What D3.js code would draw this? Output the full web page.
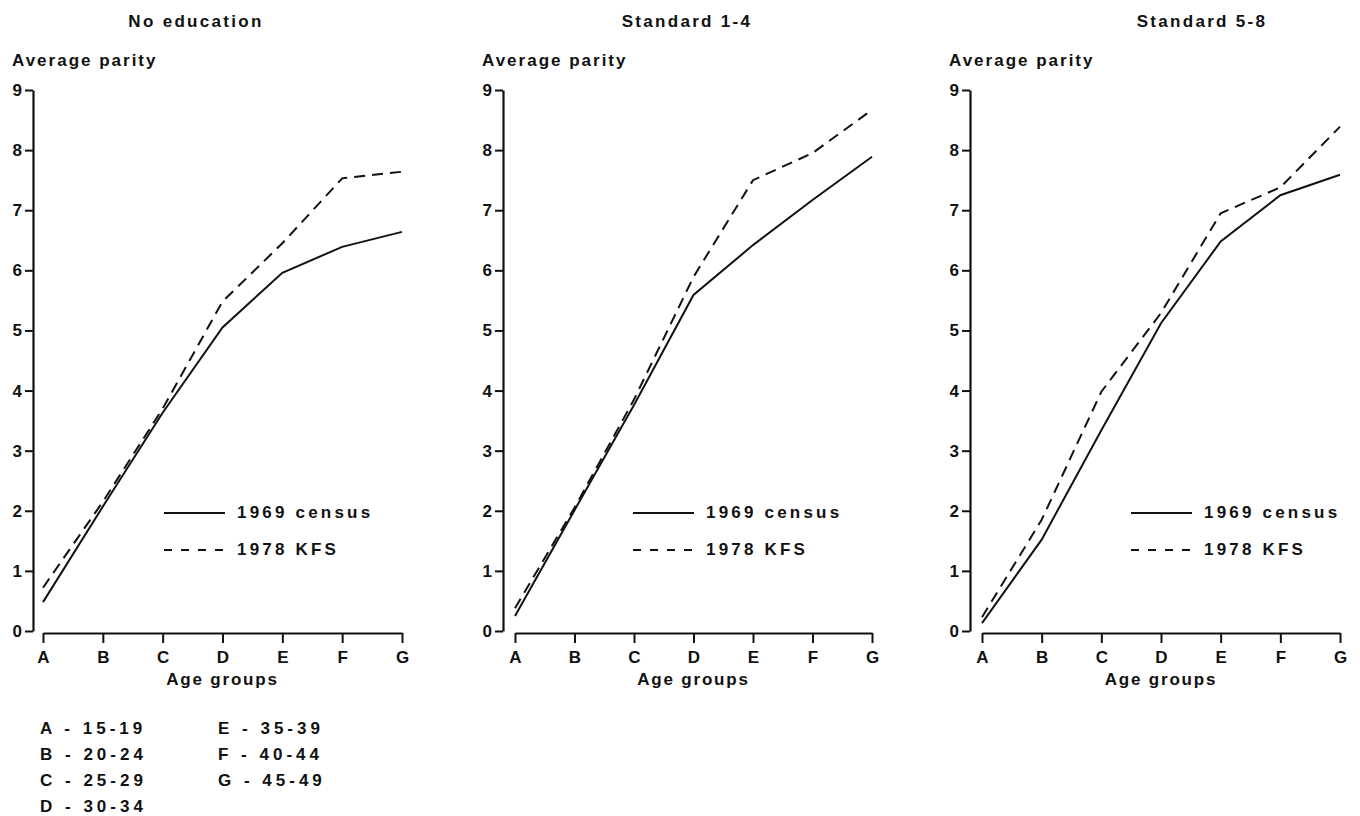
<!DOCTYPE html>
<html>
<head>
<meta charset="utf-8">
<script src="https://cdn.jsdelivr.net/npm/d3@7"></script>
<style>
  html, body { margin: 0; padding: 0; background: #fff; }
  svg { display: block; }
  text { font-family: "Liberation Sans", Arial, sans-serif; font-weight: bold; fill: #111; }
</style>
</head>
<body>
<div id="chart"></div>
<script>
// Age group codes along the x axis
const ageCodes = ['A', 'B', 'C', 'D', 'E', 'F', 'G'];
const ageRanges = ['15-19', '20-24', '25-29', '30-34', '35-39', '40-44', '45-49'];
const yTicks = [0, 1, 2, 3, 4, 5, 6, 7, 8, 9];

const panelTitles = ['No education', 'Standard 1-4', 'Standard 5-8'];
const seriesNames = ['1969 census', '1978 KFS'];

// Average parity
const census1969 = [
  [0.48, 2.07, 3.63, 5.05, 5.96, 6.39, 6.64],
  [0.25, 2.01, 3.76, 5.59, 6.42, 7.17, 7.89],
  [0.13, 1.52, 3.34, 5.12, 6.48, 7.25, 7.59]
];
const kfs1978 = [
  [0.72, 2.15, 3.70, 5.48, 6.45, 7.53, 7.64],
  [0.38, 2.05, 3.85, 5.89, 7.50, 7.95, 8.67],
  [0.23, 1.85, 3.98, 5.29, 6.95, 7.38, 8.39]
];

const width = 1360, height = 816;

// layout for each panel: y-axis position, first / last x tick, title centre, legend start
const panels = [
  { axisX: 33,  x0: 43,  x1: 402,  titleX: 196,  legendX: 164 },
  { axisX: 503, x0: 515, x1: 872,  titleX: 687,  legendX: 633 },
  { axisX: 970, x0: 982, x1: 1340, titleX: 1202, legendX: 1131 }
];

const yTop = 90, yBottom = 631;
const fontSize = 17;

const svg = d3.select('#chart')
  .append('svg')
  .attr('width', width)
  .attr('height', height)
  .attr('viewBox', [0, 0, width, height]);

const y = d3.scaleLinear().domain([0, 9]).range([yBottom, yTop]);

panels.forEach((p, i) => {
  const g = svg.append('g');

  const x = d3.scalePoint().domain(ageCodes).range([p.x0, p.x1]);

  // title
  g.append('text')
    .attr('x', p.titleX)
    .attr('y', 27)
    .attr('text-anchor', 'middle')
    .style('font-size', fontSize + 'px')
    .style('letter-spacing', '2.3px')
    .text(panelTitles[i]);

  // y axis label
  g.append('text')
    .attr('x', p.axisX - 21)
    .attr('y', 66)
    .style('font-size', fontSize + 'px')
    .style('letter-spacing', '2px')
    .text('Average parity');

  // y axis
  const yAxis = g.append('g')
    .attr('transform', `translate(${p.axisX},0)`)
    .call(d3.axisLeft(y).tickValues(yTicks).tickSize(8).tickSizeOuter(0).tickPadding(3).tickFormat(d3.format('d')));

  // x axis
  const xAxis = g.append('g')
    .attr('transform', `translate(0,${yBottom + 2})`)
    .call(d3.axisBottom(x).tickSize(10).tickSizeOuter(0).tickPadding(8));

  [yAxis, xAxis].forEach(ax => {
    ax.select('.domain').attr('stroke', '#111').attr('stroke-width', 2.2);
    ax.selectAll('.tick line').attr('stroke', '#111').attr('stroke-width', 2);
    ax.selectAll('.tick text')
      .style('font-size', fontSize + 'px')
      .style('font-family', '"Liberation Sans", Arial, sans-serif')
      .style('font-weight', 'bold')
      .attr('fill', '#111');
  });

  // x axis label
  g.append('text')
    .attr('x', (p.x0 + p.x1) / 2)
    .attr('y', 685)
    .attr('text-anchor', 'middle')
    .style('font-size', fontSize + 'px')
    .style('letter-spacing', '1.8px')
    .text('Age groups');

  const line = d3.line()
    .x((d, j) => x(ageCodes[j]))
    .y(d => y(d));

  g.append('path')
    .datum(census1969[i])
    .attr('d', line)
    .attr('fill', 'none')
    .attr('stroke', '#111')
    .attr('stroke-width', 2);

  g.append('path')
    .datum(kfs1978[i])
    .attr('d', line)
    .attr('fill', 'none')
    .attr('stroke', '#111')
    .attr('stroke-width', 2)
    .attr('stroke-dasharray', '11,7');

  // legend
  const legend = g.append('g').attr('transform', `translate(${p.legendX},0)`);
  [513, 550].forEach((ly, k) => {
    legend.append('line')
      .attr('x1', 0).attr('x2', 61)
      .attr('y1', ly).attr('y2', ly)
      .attr('stroke', '#111')
      .attr('stroke-width', 2)
      .attr('stroke-dasharray', k === 1 ? '8,9' : null);
    legend.append('text')
      .attr('x', 73)
      .attr('y', ly + 5)
      .style('font-size', fontSize + 'px')
      .style('letter-spacing', '3.2px')
      .text(seriesNames[k]);
  });
});

// key for age groups
const key = svg.append('g');
ageCodes.forEach((c, j) => {
  const col = j < 4 ? 0 : 1;
  const row = j < 4 ? j : j - 4;
  key.append('text')
    .attr('x', col === 0 ? 40 : 218)
    .attr('y', 734 + row * 26)
    .style('font-size', fontSize + 'px')
    .style('letter-spacing', '4px')
    .text(`${c} -  ${ageRanges[j]}`);
});
</script>
</body>
</html>
